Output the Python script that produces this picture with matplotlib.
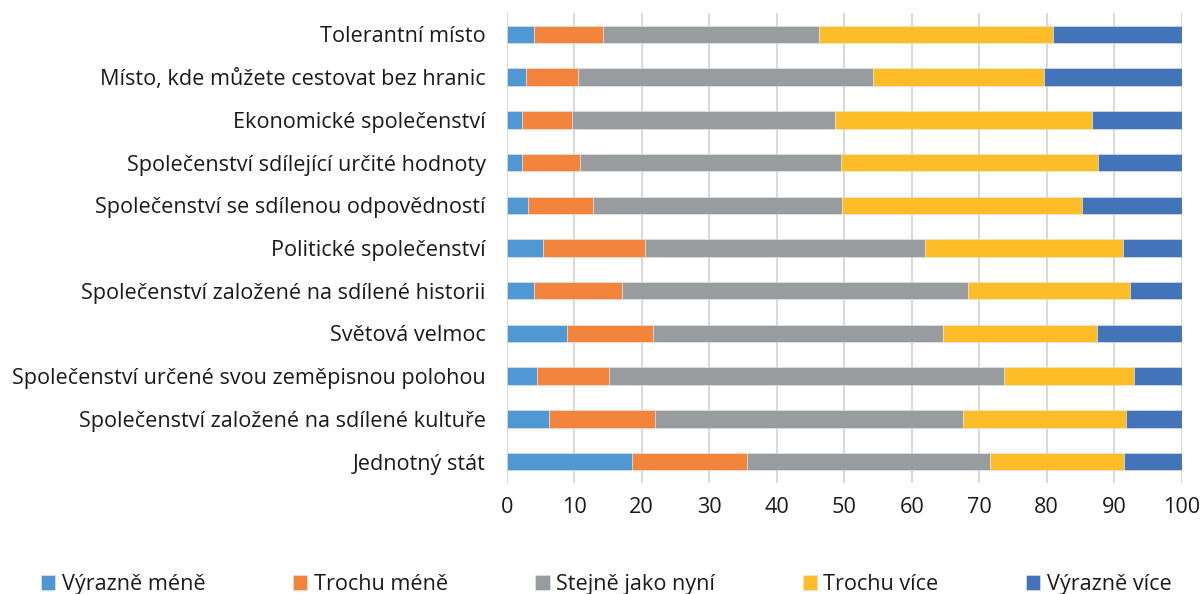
import matplotlib

matplotlib.use("Agg")
import matplotlib.pyplot as plt
import numpy as np

# categories listed bottom to top
categories = [
    "Jednotný stát",
    "Společenství založené na sdílené kultuře",
    "Společenství určené svou zeměpisnou polohou",
    "Světová velmoc",
    "Společenství založené na sdílené historii",
    "Politické společenství",
    "Společenství se sdílenou odpovědností",
    "Společenství sdílející určité hodnoty",
    "Ekonomické společenství",
    "Místo, kde můžete cestovat bez hranic",
    "Tolerantní místo",
]

series_names = ["Výrazně méně", "Trochu méně", "Stejně jako nyní", "Trochu více", "Výrazně více"]

vyrazne_mene = [18.5, 6.2, 4.5, 8.9, 4.0, 5.4, 3.1, 2.2, 2.3, 2.8, 4.0]
trochu_mene = [17.1, 15.8, 10.6, 12.7, 13.1, 15.1, 9.7, 8.6, 7.3, 7.8, 10.2]
stejne = [36.0, 45.6, 58.6, 43.1, 51.3, 41.5, 36.8, 38.7, 39.0, 43.6, 32.0]
trochu_vice = [19.8, 24.1, 19.2, 22.8, 23.9, 29.3, 35.6, 38.1, 38.1, 25.4, 34.8]
vyrazne_vice = [8.6, 8.3, 7.1, 12.5, 7.7, 8.7, 14.8, 12.4, 13.3, 20.4, 19.0]

x_ticks = list(range(0, 101, 10))

colors = ["#4f98d3", "#f2843c", "#999c9f", "#fdbd28", "#4374b9"]

plt.rcParams["font.family"] = ["Open Sans", "DejaVu Sans"]
plt.rcParams["text.color"] = "#1a1a1a"

fig = plt.figure(figsize=(12.03, 5.94), dpi=100)
ax = fig.add_axes([506.7 / 1203, 111 / 594, 675 / 1203, 470 / 594])

y = np.arange(len(categories))
left = np.zeros(len(categories))
handles = []
for name, values, color in zip(
    series_names, [vyrazne_mene, trochu_mene, stejne, trochu_vice, vyrazne_vice], colors
):
    bars = ax.barh(y, values, left=left, height=0.41, color=color,
                   edgecolor="#e8e8e8", linewidth=0.4, label=name, zorder=3)
    handles.append(bars)
    left += np.array(values)

ax.set_xlim(0, 100)
ax.set_ylim(-0.5, len(categories) - 0.5)
ax.set_xticks(x_ticks)
ax.set_yticks(y)
ax.set_yticklabels(categories)
ax.tick_params(axis="y", length=0, pad=15, labelsize=15.6, colors="#1a1a1a")
ax.tick_params(axis="x", length=0, pad=10, labelsize=15.6, colors="#1a1a1a")
ax.grid(axis="x", color="#d9d9d9", linewidth=1.5, zorder=0)
for spine in ax.spines.values():
    spine.set_visible(False)

fig.legend(
    handles=handles,
    labels=series_names,
    loc="lower left",
    bbox_to_anchor=(28 / 1203, -14 / 594),
    ncol=5,
    frameon=False,
    fontsize=15.6,
    handlelength=0.65,
    handleheight=0.65,
    handletextpad=0.3,
    columnspacing=4.05,
    borderpad=0.1,
)

fig.savefig("out.png", dpi=100)
